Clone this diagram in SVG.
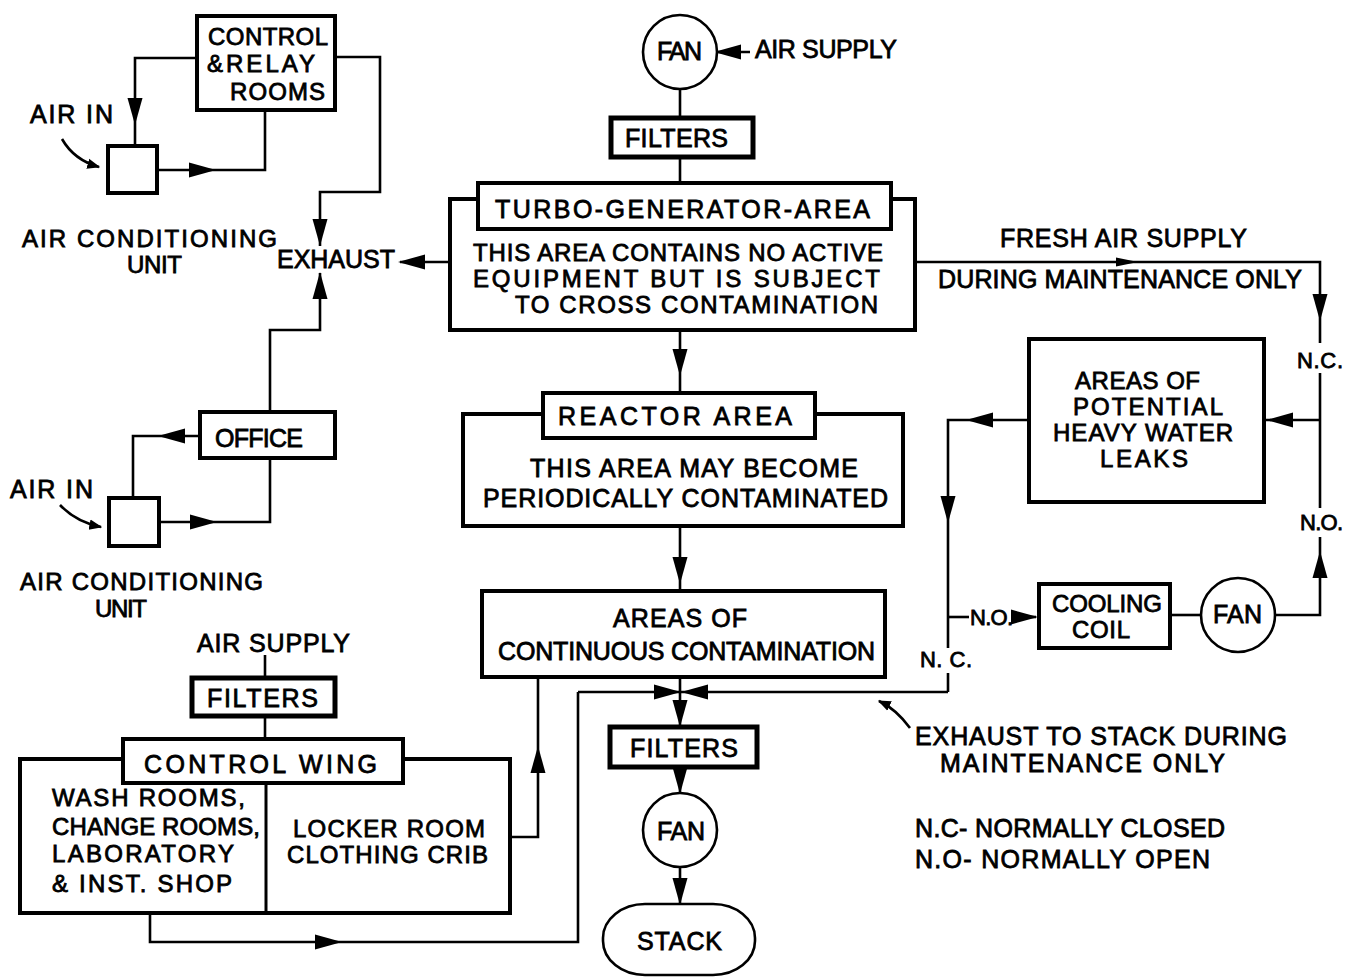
<svg xmlns="http://www.w3.org/2000/svg" width="1354" height="978" viewBox="0 0 1354 978">
<style>
.t{font-family:"Liberation Sans",Arial,sans-serif;font-size:25px;fill:#000;stroke:#000;stroke-width:0.8;lengthAdjust:spacingAndGlyphs}
.m{font-size:24px}
.s{font-size:22px}
.ln{fill:none;stroke:#000;stroke-width:2.6}
.box{fill:#fff;stroke:#000;stroke-width:4}
.thk{fill:#fff;stroke:#000;stroke-width:5}
.cir{fill:#fff;stroke:#000;stroke-width:2.6}
</style>
<defs>
<path id="ah" d="M0,0 L-27,-7.5 L-27,7.5 Z" fill="#000"/>
<path id="ahs" d="M0,0 L-22,-4.5 L-22,4.5 Z" fill="#000"/>
<marker id="hd" viewBox="0 0 10 10" refX="9" refY="5" markerWidth="5" markerHeight="5" orient="auto" markerUnits="strokeWidth"><path d="M0,1 L10,5 L0,9 Z" fill="#000"/></marker>
</defs>

<g id="connectors">
<polyline class="ln" points="197,58 135,58 135,145"/>
<use href="#ah" transform="translate(135,125) rotate(90)"/>
<polyline class="ln" points="157,170 265,170 265,110"/>
<use href="#ah" transform="translate(216,170)"/>
<polyline class="ln" points="335,57 380,57 380,192 320,192 320,246"/>
<use href="#ah" transform="translate(320,246) rotate(90)"/>
<line class="ln" x1="450" y1="262" x2="400" y2="262"/>
<use href="#ah" transform="translate(398,262) rotate(180)"/>
<polyline class="ln" points="270,411 270,330 320,330 320,273"/>
<use href="#ah" transform="translate(320,272) rotate(-90)"/>
<polyline class="ln" points="200,436 133,436 133,497"/>
<use href="#ah" transform="translate(158,436) rotate(180)"/>
<polyline class="ln" points="160,522 270,522 270,458"/>
<use href="#ah" transform="translate(217,522)"/>
<path class="ln" d="M62,139 Q74,160 99,167" marker-end="url(#hd)"/>
<path class="ln" d="M60,505 Q76,522 101,527" marker-end="url(#hd)"/>
<line class="ln" x1="750" y1="52" x2="716" y2="52"/>
<use href="#ah" transform="translate(714,52) rotate(180)"/>
<line class="ln" x1="680" y1="89" x2="680" y2="117"/>
<line class="ln" x1="680" y1="157" x2="680" y2="182"/>
<line class="ln" x1="680" y1="330" x2="680" y2="392"/>
<use href="#ah" transform="translate(680,376) rotate(90)"/>
<line class="ln" x1="680" y1="527" x2="680" y2="590"/>
<use href="#ah" transform="translate(680,584) rotate(90)"/>
<line class="ln" x1="680" y1="677" x2="680" y2="726"/>
<use href="#ah" transform="translate(680,727) rotate(90)"/>
<line class="ln" x1="578" y1="692" x2="948" y2="692"/>
<use href="#ah" transform="translate(681,692)"/>
<use href="#ah" transform="translate(681,692) rotate(180)"/>
<line class="ln" x1="680" y1="768" x2="680" y2="793"/>
<use href="#ah" transform="translate(680,794) rotate(90)"/>
<line class="ln" x1="680" y1="867" x2="680" y2="904"/>
<use href="#ah" transform="translate(680,905) rotate(90)"/>
<line class="ln" x1="265" y1="655" x2="265" y2="677"/>
<line class="ln" x1="265" y1="716" x2="265" y2="738"/>
<polyline class="ln" points="150,913 150,942 578,942 578,692"/>
<use href="#ah" transform="translate(342,942)"/>
<polyline class="ln" points="510,837 538,837 538,677"/>
<use href="#ah" transform="translate(538,746) rotate(-90)"/>
<polyline class="ln" points="915,262 1320,262 1320,343"/>
<use href="#ahs" transform="translate(1138,262)"/>
<use href="#ah" transform="translate(1320,321) rotate(90)"/>
<line class="ln" x1="1320" y1="373" x2="1320" y2="508"/>
<line class="ln" x1="1320" y1="420" x2="1265" y2="420"/>
<use href="#ah" transform="translate(1266,420) rotate(180)"/>
<polyline class="ln" points="1320,537 1320,615 1275,615"/>
<use href="#ah" transform="translate(1320,551) rotate(-90)"/>
<polyline class="ln" points="1028,420 948,420 948,648"/>
<use href="#ah" transform="translate(966,420) rotate(180)"/>
<use href="#ah" transform="translate(948,523) rotate(90)"/>
<line class="ln" x1="948" y1="673" x2="948" y2="692"/>
<line class="ln" x1="948" y1="617" x2="969" y2="617"/>
<line class="ln" x1="1012" y1="617" x2="1036" y2="617"/>
<use href="#ah" transform="translate(1038,617)"/>
<line class="ln" x1="1170" y1="615" x2="1201" y2="615"/>
<path class="ln" d="M910,728 Q896,709 879,701" marker-end="url(#hd)"/>
</g>

<g id="control-relay">
<rect class="box" x="197" y="16" width="138" height="94"/>
<text class="t m" x="208" y="45" textLength="120">CONTROL</text>
<text class="t m" x="207" y="72" textLength="108">&amp;RELAY</text>
<text class="t m" x="230" y="100" textLength="95">ROOMS</text>
</g>
<g id="ac-unit-1">
<rect class="box" x="108" y="146" width="49" height="47"/>
<text class="t" x="30" y="123" textLength="83">AIR IN</text>
<text class="t m" x="22" y="247" textLength="255">AIR CONDITIONING</text>
<text class="t m" x="127" y="273" textLength="55">UNIT</text>
</g>
<g id="exhaust">
<text class="t" x="277" y="268" textLength="118">EXHAUST</text>
</g>
<g id="office">
<rect class="box" x="200" y="412" width="135" height="46"/>
<text class="t" x="215" y="447" textLength="88">OFFICE</text>
</g>
<g id="ac-unit-2">
<rect class="box" x="109" y="498" width="50" height="48"/>
<text class="t" x="10" y="498" textLength="83">AIR IN</text>
<text class="t m" x="20" y="590" textLength="243">AIR CONDITIONING</text>
<text class="t m" x="95" y="617" textLength="52">UNIT</text>
</g>

<g id="fan-top">
<circle class="cir" cx="680" cy="52" r="37"/>
<text class="t" x="657" y="60" textLength="45">FAN</text>
<text class="t" x="755" y="58" textLength="142">AIR SUPPLY</text>
</g>
<g id="filters-top">
<rect class="thk" x="611" y="118" width="142" height="39"/>
<text class="t" x="625" y="147" textLength="103">FILTERS</text>
</g>
<g id="turbo">
<rect class="box" x="450" y="199" width="465" height="131"/>
<rect class="box" x="478" y="183" width="413" height="46"/>
<text class="t" x="495" y="218" textLength="375">TURBO-GENERATOR-AREA</text>
<text class="t m" x="473" y="261" textLength="410">THIS AREA CONTAINS NO ACTIVE</text>
<text class="t m" x="473" y="287" textLength="407">EQUIPMENT  BUT  IS  SUBJECT</text>
<text class="t m" x="515" y="313" textLength="363">TO  CROSS  CONTAMINATION</text>
</g>
<g id="reactor">
<rect class="box" x="463" y="414" width="440" height="112"/>
<rect class="box" x="543" y="393" width="272" height="45"/>
<text class="t" x="558" y="425" textLength="234">REACTOR  AREA</text>
<text class="t" x="530" y="477" textLength="328">THIS  AREA  MAY  BECOME</text>
<text class="t" x="483" y="507" textLength="405">PERIODICALLY  CONTAMINATED</text>
</g>
<g id="continuous">
<rect class="box" x="482" y="591" width="403" height="86"/>
<text class="t" x="613" y="627" textLength="134">AREAS  OF</text>
<text class="t" x="498" y="660" textLength="377">CONTINUOUS CONTAMINATION</text>
</g>
<g id="filters-bottom">
<rect class="thk" x="610" y="727" width="147" height="40"/>
<text class="t" x="630" y="757" textLength="108">FILTERS</text>
</g>
<g id="fan-bottom">
<circle class="cir" cx="680" cy="830" r="37"/>
<text class="t" x="657" y="840" textLength="48">FAN</text>
</g>
<g id="stack">
<rect class="cir" x="603" y="904" width="152" height="71" rx="42" ry="34"/>
<text class="t" x="637" y="950" textLength="85">STACK</text>
</g>

<g id="control-wing">
<text class="t" x="197" y="652" textLength="153">AIR SUPPLY</text>
<rect class="thk" x="192" y="678" width="143" height="38"/>
<text class="t" x="207" y="707" textLength="111">FILTERS</text>
<rect class="box" x="20" y="759" width="490" height="154"/>
<line x1="266" y1="783" x2="266" y2="913" stroke="#000" stroke-width="3"/>
<rect class="box" x="123" y="739" width="280" height="44"/>
<text class="t" x="144" y="773" textLength="233">CONTROL    WING</text>
<text class="t m" x="52" y="806" textLength="193">WASH  ROOMS,</text>
<text class="t m" x="52" y="835" textLength="208">CHANGE ROOMS,</text>
<text class="t m" x="52" y="862" textLength="182">LABORATORY</text>
<text class="t m" x="52" y="892" textLength="180">&amp; INST. SHOP</text>
<text class="t m" x="293" y="837" textLength="192">LOCKER ROOM</text>
<text class="t m" x="287" y="863" textLength="201">CLOTHING CRIB</text>
</g>

<g id="heavy-water">
<rect class="box" x="1029" y="339" width="235" height="163"/>
<text class="t m" x="1075" y="389" textLength="125">AREAS OF</text>
<text class="t m" x="1073" y="415" textLength="150">POTENTIAL</text>
<text class="t m" x="1053" y="441" textLength="180">HEAVY WATER</text>
<text class="t m" x="1100" y="467" textLength="88">LEAKS</text>
</g>
<g id="cooling-coil">
<rect class="box" x="1039" y="584" width="131" height="64"/>
<text class="t m" x="1052" y="612" textLength="110">COOLING</text>
<text class="t m" x="1072" y="638" textLength="58">COIL</text>
</g>
<g id="fan-right">
<circle class="cir" cx="1238" cy="615" r="37"/>
<text class="t" x="1213" y="623" textLength="49">FAN</text>
</g>
<g id="labels">
<text class="t" x="1000" y="247" textLength="247">FRESH AIR  SUPPLY</text>
<text class="t" x="938" y="288" textLength="364">DURING  MAINTENANCE ONLY</text>
<text class="t s" x="1297" y="368" textLength="46">N.C.</text>
<text class="t s" x="1300" y="530" textLength="43">N.O.</text>
<text class="t s" x="970" y="625" textLength="43">N.O.</text>
<text class="t s" x="920" y="667" textLength="52">N. C.</text>
<text class="t" x="915" y="745" textLength="372">EXHAUST  TO  STACK DURING</text>
<text class="t" x="940" y="772" textLength="285">MAINTENANCE     ONLY</text>
<text class="t" x="915" y="837" textLength="310">N.C- NORMALLY  CLOSED</text>
<text class="t" x="915" y="868" textLength="295">N.O- NORMALLY  OPEN</text>
</g>
</svg>
